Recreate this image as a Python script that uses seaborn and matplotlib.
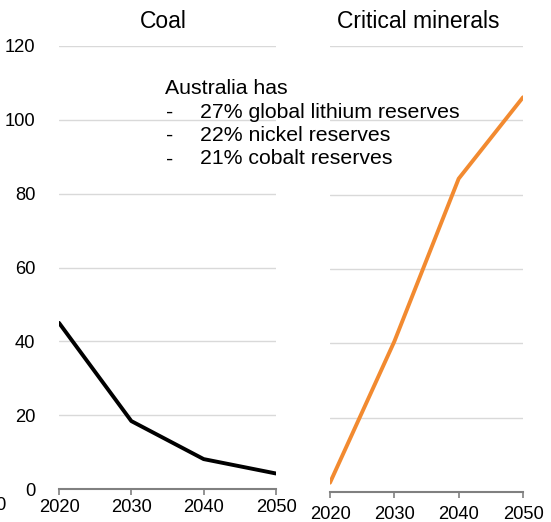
import matplotlib
matplotlib.use("Agg")
import matplotlib.pyplot as plt
import seaborn as sns
import pandas as pd

sns.set_theme(style="white")
plt.rcParams["font.family"] = ["Liberation Sans", "DejaVu Sans"]
plt.rcParams["text.color"] = "black"

years = [2020, 2030, 2040, 2050]
coal = [45, 18.4, 8.1, 4.2]
minerals = [2.5, 40.5, 84.3, 106.2]
y_ticks = [0, 20, 40, 60, 80, 100, 120]
panel_titles = ["Coal", "Critical minerals"]
note_lines = ["27% global lithium reserves", "22% nickel reserves", "21% cobalt reserves"]

W, H = 551, 522
fig = plt.figure(figsize=(W / 100, H / 100), dpi=100)


def px_axes(x0, x1, ytop, ybot):
    return fig.add_axes([x0 / W, 1 - ybot / H, (x1 - x0) / W, (ybot - ytop) / H])


ax_l = px_axes(59, 276, 46, 489)
ax_r = px_axes(330, 523, 46, 492)

df_coal = pd.DataFrame({"year": years, "value": coal})
df_min = pd.DataFrame({"year": years, "value": minerals})

sns.lineplot(data=df_coal, x="year", y="value", ax=ax_l, color="black",
             linewidth=2.8, solid_capstyle="round")
sns.lineplot(data=df_min, x="year", y="value", ax=ax_r, color="#F28A30",
             linewidth=2.8, solid_capstyle="round")

for ax in (ax_l, ax_r):
    ax.set_xlim(2020, 2050)
    ax.set_ylim(0, 120)
    ax.set_xticks(years)
    ax.set_yticks(y_ticks)
    ax.set_xlabel("")
    ax.set_ylabel("")
    ax.grid(axis="y", color="#D9D9D9", linewidth=1.0)
    ax.grid(axis="x", visible=False)
    for s in ("top", "right", "left"):
        ax.spines[s].set_visible(False)
    ax.spines["bottom"].set_color("#808080")
    ax.spines["bottom"].set_linewidth(1.5)
    ax.tick_params(axis="x", bottom=True, direction="out", length=4, width=1.2,
                   color="#808080", labelsize=13.2, pad=3, labelcolor="black")
    ax.tick_params(axis="y", left=False, labelsize=13.2, pad=11, labelcolor="black")
    ax.set_axisbelow(True)

ax_r.tick_params(axis="y", labelleft=False)
ax_r.tick_params(axis="x", pad=6)

fig.text(163 / W, 1 - 21 / H, panel_titles[0], ha="center", va="center", fontsize=16.5)
fig.text(418 / W, 1 - 21 / H, panel_titles[1], ha="center", va="center", fontsize=16.5)

# Note on reserves
fig.text(165 / W, 1 - 89 / H, "Australia has", ha="left", va="center", fontsize=15.3)
for i, line in enumerate(note_lines):
    yy = 1 - (112 + 23.5 * i) / H
    fig.text(166 / W, yy, "-", ha="left", va="center", fontsize=15.3)
    fig.text(200 / W, yy, line, ha="left", va="center", fontsize=15.3)

# Edge of a neighbouring axis label
fig.text(-5 / W, 1 - 506 / H, "0", ha="left", va="center", fontsize=13.2)

fig.savefig("out.png", dpi=100)
